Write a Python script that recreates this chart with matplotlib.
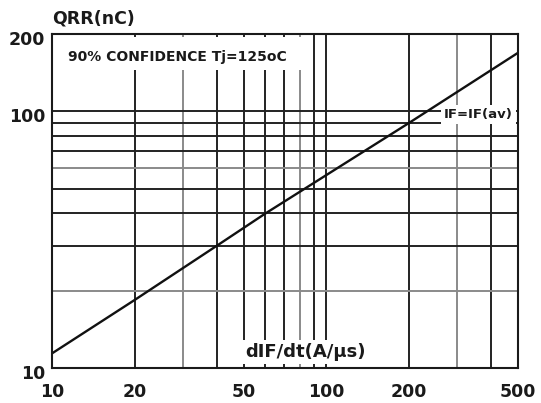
import numpy as np
import matplotlib
matplotlib.use('Agg')
import matplotlib.pyplot as plt
from matplotlib.patches import Rectangle
from matplotlib.transforms import ScaledTranslation

plt.rcParams['font.family'] = ['DejaVu Sans']
plt.rcParams['font.weight'] = 'bold'

# Reverse recovery charge vs. dIF/dt (log-log), 90% confidence, Tj = 125 C
didt = [10, 20, 40, 60, 200, 500]
qrr = [11.4, 18.4, 30.0, 40.0, 90.0, 169.0]

x_ticks = [10, 20, 50, 100, 200, 500]
y_ticks = [10, 100, 200]

# grid lines; the lighter ones are drawn gray
x_grid = [20, 30, 40, 50, 60, 70, 80, 90, 100, 200, 300, 400]
y_grid = [20, 30, 40, 50, 60, 70, 80, 90, 100]
x_grid_light = [30, 80, 300]
y_grid_light = [20, 60]

fig = plt.figure(figsize=(5.41, 4.03), dpi=100)
ax = fig.add_axes([0.0961, 0.0868, 0.8614, 0.8288])
ax.set_xscale('log')
ax.set_yscale('log')
ax.set_xlim(10, 500)
ax.set_ylim(10, 200)

for v in x_grid:
    c = '#8a8a8a' if v in x_grid_light else '#222222'
    ax.axvline(v, color=c, lw=1.4, zorder=1)
for v in y_grid:
    c = '#8a8a8a' if v in y_grid_light else '#222222'
    ax.axhline(v, color=c, lw=1.4, zorder=1)

ax.plot(didt, qrr, color='#111111', lw=1.7, zorder=4)

ax.set_xticks(x_ticks)
ax.set_xticklabels([str(t) for t in x_ticks])
ax.set_yticks(y_ticks)
ax.set_yticklabels([str(t) for t in y_ticks])
ax.minorticks_off()
ax.tick_params(axis='both', length=0, labelsize=12.5, colors='#1a1a1a')
ax.tick_params(axis='x', pad=11)
ax.tick_params(axis='y', pad=5)
shift = ScaledTranslation(0, -3 / 72, fig.dpi_scale_trans)
for lab in ax.get_yticklabels():
    lab.set_transform(lab.get_transform() + shift)

for s in ax.spines.values():
    s.set_linewidth(1.5)
    s.set_color('#1a1a1a')
    s.set_zorder(5)

ax.text(0.0, 1.02, 'QRR(nC)', transform=ax.transAxes, ha='left', va='bottom',
        fontsize=12.5, color='#1a1a1a')

# white panel behind the confidence note
ax.add_patch(Rectangle((0.0, 0.893), 0.543, 0.098, transform=ax.transAxes,
                       fc='white', ec='none', zorder=2))
ax.text(0.034, 0.932, '90% CONFIDENCE Tj=125oC', transform=ax.transAxes,
        ha='left', va='center', fontsize=10, color='#1a1a1a', zorder=3)

ax.text(0.989, 0.759, 'IF=IF(av)', transform=ax.transAxes, ha='right', va='center',
        fontsize=9.5, color='#1a1a1a', zorder=3,
        bbox=dict(boxstyle='square,pad=0.2', fc='white', ec='none'))

ax.text(0.414, 0.048, 'dIF/dt(A/µs)', transform=ax.transAxes, ha='left', va='center',
        fontsize=13, color='#1a1a1a', zorder=3,
        bbox=dict(boxstyle='square,pad=0.15', fc='white', ec='none'))

fig.savefig('out.png', dpi=100)
